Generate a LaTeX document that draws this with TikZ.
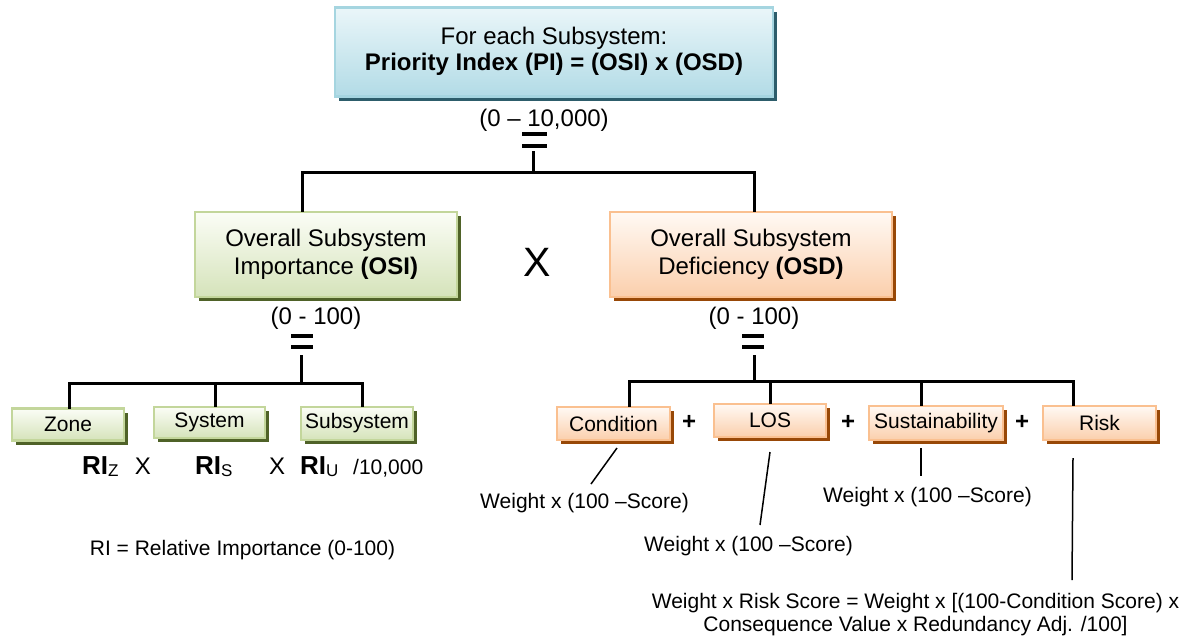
\documentclass[tikz,border=0pt]{standalone}
\usepackage{fontspec}
\setmainfont{Liberation Sans}
\usetikzlibrary{shadows}
\definecolor{bbord}{HTML}{A5D5E0}
\definecolor{btop}{HTML}{EAF6F9}
\definecolor{bbot}{HTML}{B2DBE6}
\definecolor{bshad}{HTML}{2D5D6B}
\definecolor{gbord}{HTML}{C3D69B}
\definecolor{gtop}{HTML}{FBFDF6}
\definecolor{gbot}{HTML}{D5E3BA}
\definecolor{gshad}{HTML}{4F6228}
\definecolor{obord}{HTML}{FAC090}
\definecolor{otop}{HTML}{FFF9F4}
\definecolor{obot}{HTML}{FBCFAC}
\definecolor{oshad}{HTML}{984807}
\newcommand\fsz[2]{\fontsize{#1}{#2}\selectfont}
\newcommand\rilab[1]{{\fsz{26}{30}\textbf{RI}}\raisebox{-2pt}{\fsz{17}{20}#1}}
\begin{document}
\begin{tikzpicture}[x=1pt,y=-1pt,
  box/.style={draw, line width=2.5pt, inner sep=0pt, align=center, font=\fsz{21}{25}},
  bluebox/.style={box, draw=bbord, top color=btop, bottom color=bbot,
    drop shadow={shadow xshift=4pt, shadow yshift=-4pt, fill=bshad, opacity=1}},
  greenbox/.style={box, draw=gbord, top color=gtop, bottom color=gbot,
    drop shadow={shadow xshift=4pt, shadow yshift=-4pt, fill=gshad, opacity=1}},
  orangebox/.style={box, draw=obord, top color=otop, bottom color=obot,
    drop shadow={shadow xshift=4pt, shadow yshift=-4pt, fill=oshad, opacity=1}},
  conn/.style={line width=3pt, line cap=rect},
  lead/.style={line width=1.5pt},
  eqbar/.style={line width=4pt},
  txt/.style={inner sep=0pt, font=\fsz{21}{25}},
  rng/.style={inner sep=0pt, font=\fsz{24}{28}},
  opx/.style={inner sep=0pt, font=\fsz{24}{28}\bfseries},
]
\useasboundingbox (0,0) rectangle (1190,641);

% top box
\node[bluebox, minimum width=438pt, minimum height=89pt, font=\fsz{24}{26}] (pi) at (554,52)
  {\raisebox{5pt}{\begin{tabular}{@{}c@{}}For each Subsystem:\\\textbf{Priority Index (PI) = (OSI) x (OSD)}\end{tabular}}};
\node[rng] (pirange) at (544,120) {(0 – 10,000)};
\coordinate (eqA1) at (522,134); \coordinate (eqA2) at (547,134);
\coordinate (eqA3) at (522,146); \coordinate (eqA4) at (547,146);
\draw[eqbar] (eqA1) -- (eqA2); \draw[eqbar] (eqA3) -- (eqA4);

% second level
\node[greenbox, minimum width=262pt, minimum height=85pt, font=\fsz{24}{28}] (osi) at (326,254.5)
  {Overall Subsystem\\Importance \textbf{(OSI)}};
\node[orangebox, minimum width=282pt, minimum height=85pt, font=\fsz{24}{28}] (osd) at (751,254.5)
  {Overall Subsystem\\Deficiency \textbf{(OSD)}};
\node[inner sep=0pt, font=\fsz{41}{45}] (bigx) at (537,262) {X};

\coordinate (s1) at (533,152);
\coordinate (h1l) at (302,172); \coordinate (h1r) at (754,172);
\draw[conn] (s1) -- (s1 |- h1l);
\draw[conn] (osi.north -| h1l) -- (h1l) -- (h1r) -- (osd.north -| h1r);

\node[rng] (osirange) at (316,318) {(0 - 100)};
\node[rng] (osdrange) at (754,318) {(0 - 100)};
\coordinate (eqB1) at (291,336); \coordinate (eqB2) at (313,336);
\coordinate (eqB3) at (291,347); \coordinate (eqB4) at (313,347);
\draw[eqbar] (eqB1) -- (eqB2); \draw[eqbar] (eqB3) -- (eqB4);
\coordinate (eqC1) at (742,336); \coordinate (eqC2) at (764,336);
\coordinate (eqC3) at (742,347); \coordinate (eqC4) at (764,347);
\draw[eqbar] (eqC1) -- (eqC2); \draw[eqbar] (eqC3) -- (eqC4);

% left subtree
\node[greenbox, minimum width=112pt, minimum height=32pt] (zone) at (68,424.5) {Zone};
\node[greenbox, minimum width=111pt, minimum height=31pt] (system) at (209.5,422.5) {System};
\node[greenbox, minimum width=112pt, minimum height=33pt] (subsys) at (357,423.5) {Subsystem};
\coordinate (s2) at (301,356);
\coordinate (h2l) at (69,383); \coordinate (h2m) at (215,383); \coordinate (h2r) at (362,383);
\draw[conn] (s2) -- (s2 |- h2l);
\draw[conn] (zone.north -| h2l) -- (h2l) -- (h2r) -- (subsys.north -| h2r);
\draw[conn] (h2m) -- (system.north -| h2m);

\node[anchor=base west, inner sep=0pt] (riz) at (82,474) {\rilab{Z}};
\node[inner sep=0pt, font=\fsz{24}{28}] (x1) at (143,466) {X};
\node[anchor=base west, inner sep=0pt] (ris) at (195,474) {\rilab{S}};
\node[inner sep=0pt, font=\fsz{24}{28}] (x2) at (277,466) {X};
\node[anchor=base west, inner sep=0pt] (riu) at (300,474) {\rilab{U}};
\node[anchor=base west, inner sep=0pt, font=\fsz{21}{24}] (div) at (353,474) {/10,000};
\node[txt] (rinote) at (242.5,550) {RI = Relative Importance (0-100)};

% right subtree
\node[orangebox, minimum width=113pt, minimum height=33pt] (cond) at (613.5,423.5) {Condition};
\node[orangebox, minimum width=112pt, minimum height=33pt] (los) at (770,420.5) {LOS};
\node[orangebox, minimum width=134pt, minimum height=34pt] (sust) at (936,423) {Sustainability};
\node[orangebox, minimum width=113pt, minimum height=34pt] (risk) at (1099.5,423) {Risk};
\node[opx] (p1) at (689,422) {+};
\node[opx] (p2) at (848,422) {+};
\node[opx] (p3) at (1022,422) {+};
\coordinate (s3) at (754,356);
\coordinate (h3a) at (629,381); \coordinate (h3b) at (770,381);
\coordinate (h3c) at (921,381); \coordinate (h3d) at (1073,381);
\draw[conn] (s3) -- (s3 |- h3a);
\draw[conn] (cond.north -| h3a) -- (h3a) -- (h3d) -- (risk.north -| h3d);
\draw[conn] (h3b) -- (los.north -| h3b);
\draw[conn] (h3c) -- (sust.north -| h3c);

\node[txt] (wcond) at (584.5,503) {Weight x (100 –Score)};
\node[txt] (wlos) at (748.5,546) {Weight x (100 –Score)};
\node[txt] (wsust) at (927.5,497) {Weight x (100 –Score)};
\node[txt, align=center, font=\fsz{21}{23}] (wrisk) at (915.5,615)
  {Weight x Risk Score = Weight x [(100-Condition Score) x\\Consequence Value x Redundancy Adj. /100]};
\coordinate (lc1) at (617,448); \coordinate (lc2) at (591,484);
\coordinate (ll1) at (770,452); \coordinate (ll2) at (760,525);
\coordinate (ls1) at (921,448); \coordinate (ls2) at (921,476);
\coordinate (lr1) at (1073,458); \coordinate (lr2) at (1072,580);
\draw[lead] (lc1) -- (lc2);
\draw[lead] (ll1) -- (ll2);
\draw[lead] (ls1) -- (ls2);
\draw[lead] (lr1) -- (lr2);
\end{tikzpicture}
\end{document}
